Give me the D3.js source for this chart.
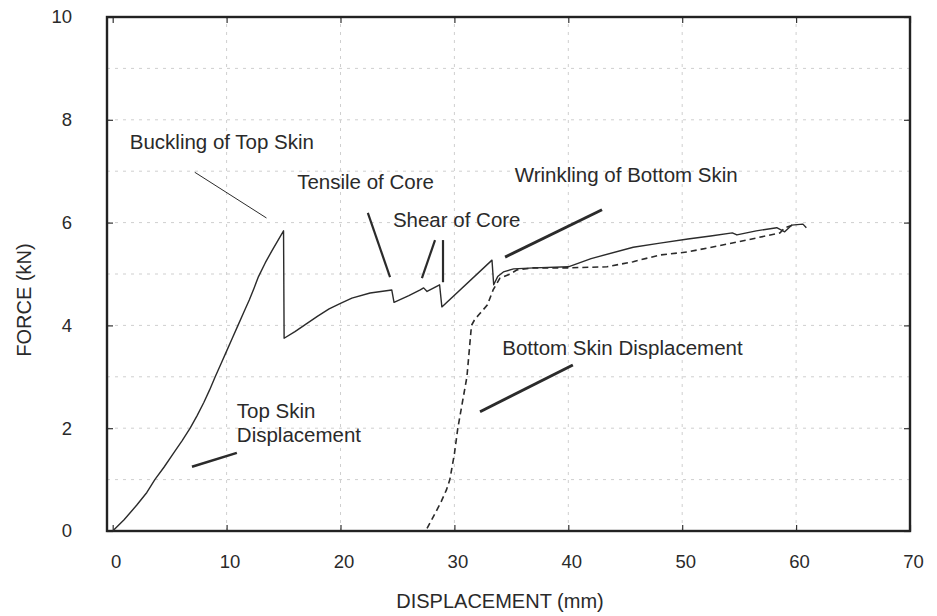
<!DOCTYPE html>
<html lang="en">
<head>
<meta charset="UTF-8">
<title>Force vs Displacement</title>
<script src="https://d3js.org/d3.v7.min.js"></script>
<style>
  body { margin: 0; background: #fff; }
  text { font-family: "Liberation Sans", Arial, sans-serif; fill: #2a2a2a; }
</style>
</head>
<body>
<div id="chart"></div>
<script>
// data (displacement mm, force kN)
const topSkinDisp  = [0, 1, 2.1, 3, 3.7, 4.5, 5.3, 6.1, 6.8, 7.4, 8, 8.5, 9, 9.5, 10, 10.5, 11, 11.5, 12, 12.4, 12.8, 13.4, 14, 14.5, 15, 15.05, 16, 17, 18, 19, 20, 21, 22.6, 24.5, 24.7, 26, 27, 27.3, 27.6, 28.7, 28.9, 33.3, 33.45, 33.8, 34.3, 35.2, 37, 40, 42, 45.7, 48.05, 50.5, 52.5, 54.4, 54.8, 56.5, 58.3, 59, 59.6, 60.6, 60.9];
const topSkinForce = [0, 0.22, 0.5, 0.75, 1.0, 1.24, 1.5, 1.76, 2.0, 2.24, 2.5, 2.74, 3.0, 3.25, 3.5, 3.75, 4.0, 4.25, 4.5, 4.72, 4.95, 5.22, 5.46, 5.65, 5.84, 3.75, 3.88, 4.03, 4.18, 4.32, 4.43, 4.53, 4.63, 4.69, 4.45, 4.58, 4.69, 4.73, 4.66, 4.79, 4.36, 5.27, 4.79, 4.95, 5.04, 5.1, 5.12, 5.14, 5.3, 5.52, 5.6, 5.68, 5.74, 5.8, 5.76, 5.84, 5.9, 5.82, 5.95, 5.97, 5.9];

const bottomSkinDisp  = [27.6, 28.2, 28.8, 29.3, 29.6, 30, 30.3, 30.7, 31.1, 31.3, 31.5, 31.8, 32.2, 32.9, 33.4, 34, 34.9, 35.5, 37, 40, 43.4, 45.7, 48.05, 50.5, 54.8, 58.6, 59, 59.7];
const bottomSkinForce = [0.05, 0.3, 0.55, 0.8, 1.0, 1.5, 2.0, 2.5, 3.0, 3.5, 4.0, 4.12, 4.22, 4.4, 4.69, 4.92, 5.0, 5.08, 5.12, 5.12, 5.14, 5.24, 5.37, 5.43, 5.62, 5.8, 5.9, 5.95];

const xTicks = [0, 10, 20, 30, 40, 50, 60, 70];
const yTicks = [0, 2, 4, 6, 8, 10];

// annotations in data units
const annoLabels = [["Buckling of Top Skin"], ["Tensile of Core"], ["Shear of Core"], ["Wrinkling of Bottom Skin"], ["Bottom Skin Displacement"], ["Top Skin", "Displacement"]];
const annoX = [1.5, 16.2, 24.6, 35.3, 34.2, 10.9];
const annoY = [7.44, 6.65, 5.91, 6.79, 3.42, 2.2];
const leaderFrom = [[7.2, 6.98], [22.4, 6.19], [28.3, 5.66], [29.0, 5.66], [42.96, 6.25], [40.4, 3.23], [10.9, 1.52]];
const leaderTo   = [[13.5, 6.09], [24.35, 4.94], [27.15, 4.92], [29.0, 4.84], [34.45, 5.33], [32.25, 2.32], [6.96, 1.25]];
const leaderW    = [1, 2.2, 2.2, 2.2, 3, 3, 2.6];

const width = 937, height = 616;
const svg = d3.select("#chart").append("svg")
    .attr("width", width)
    .attr("height", height);

const x = d3.scaleLinear().domain([-0.5, 70]).range([107, 910]);
const y = d3.scaleLinear().domain([0, 10]).range([531, 17]);

// faint dotted grid
const grid = svg.append("g").attr("stroke", "#cfcfcf").attr("stroke-width", 1).attr("stroke-dasharray", "3,5");
grid.selectAll(".gy").data(d3.range(1, 10)).enter().append("line")
    .attr("x1", x.range()[0]).attr("x2", x.range()[1])
    .attr("y1", d => y(d)).attr("y2", d => y(d));
grid.selectAll(".gx").data(xTicks.slice(1, -1)).enter().append("line")
    .attr("y1", y(0)).attr("y2", y(10))
    .attr("x1", d => x(d)).attr("x2", d => x(d));

// axes with inside ticks
const xAxis = svg.append("g")
    .attr("transform", "translate(3," + y(0) + ")")
    .call(d3.axisBottom(x).tickValues(xTicks).tickSize(-6).tickPadding(24));
const yAxis = svg.append("g")
    .attr("transform", "translate(" + x.range()[0] + ",0)")
    .call(d3.axisLeft(y).tickValues(yTicks).tickSize(-6).tickPadding(35));
svg.append("g").attr("transform", "translate(0," + y(10) + ")")
    .call(d3.axisTop(x).tickValues(xTicks).tickSize(-6).tickFormat(""));
svg.append("g").attr("transform", "translate(" + x.range()[1] + ",0)")
    .call(d3.axisRight(y).tickValues(yTicks).tickSize(-6).tickFormat(""));
svg.selectAll(".domain").remove();
svg.selectAll(".tick line").attr("stroke", "#333").attr("stroke-width", 1.2);
xAxis.selectAll(".tick line").attr("transform", "translate(-3,0)");
svg.selectAll(".tick text").style("font-size", "18.5px").attr("fill", "#2a2a2a");

// frame
svg.append("rect")
    .attr("x", x.range()[0]).attr("y", y(10))
    .attr("width", x.range()[1] - x.range()[0])
    .attr("height", y(0) - y(10))
    .attr("fill", "none").attr("stroke", "#222").attr("stroke-width", 2.4);

// curves
const line = d3.line().x(d => x(d[0])).y(d => y(d[1]));
svg.append("path")
    .datum(d3.zip(topSkinDisp, topSkinForce))
    .attr("d", line)
    .attr("fill", "none").attr("stroke", "#2b2b2b").attr("stroke-width", 1.4)
    .attr("stroke-linejoin", "round");
svg.append("path")
    .datum(d3.zip(bottomSkinDisp, bottomSkinForce))
    .attr("d", line)
    .attr("fill", "none").attr("stroke", "#2b2b2b").attr("stroke-width", 1.6)
    .attr("stroke-dasharray", "6,4");

// leader lines
svg.selectAll(".leader").data(d3.range(leaderFrom.length)).enter().append("line")
    .attr("x1", i => x(leaderFrom[i][0])).attr("y1", i => y(leaderFrom[i][1]))
    .attr("x2", i => x(leaderTo[i][0])).attr("y2", i => y(leaderTo[i][1]))
    .attr("stroke", "#2b2b2b").attr("stroke-width", i => leaderW[i]);

// annotation labels
annoLabels.forEach((lines, i) => {
    const t = svg.append("text")
        .attr("x", x(annoX[i])).attr("y", y(annoY[i]))
        .style("font-size", "20.5px");
    lines.forEach((s, j) => {
        t.append("tspan").attr("x", x(annoX[i])).attr("dy", j ? "1.17em" : 0).text(s);
    });
});

// axis titles
svg.append("text")
    .attr("x", 500).attr("y", 608)
    .attr("text-anchor", "middle")
    .style("font-size", "20px")
    .text("DISPLACEMENT (mm)");
svg.append("text")
    .attr("transform", "translate(31,300) rotate(-90)")
    .attr("text-anchor", "middle")
    .style("font-size", "20px")
    .text("FORCE (kN)");
</script>
</body>
</html>
